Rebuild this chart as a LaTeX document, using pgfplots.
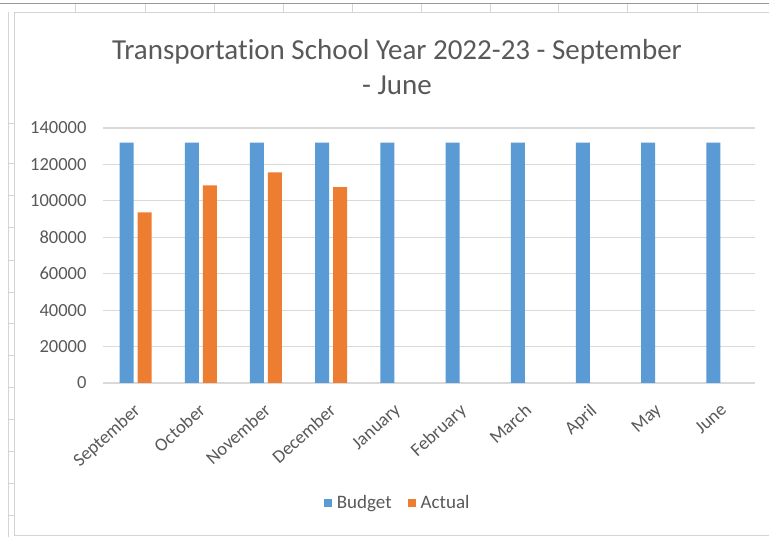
\documentclass[border=0pt]{standalone}
\usepackage{pgfplots}
\pgfplotsset{compat=1.18}
\usepackage{fontspec}
\setmainfont{Carlito}[Ligatures=NoCommon]

\definecolor{budget}{HTML}{5B9BD5}
\definecolor{actual}{HTML}{ED7D31}
\definecolor{txt}{HTML}{595959}
\definecolor{gridc}{HTML}{D9D9D9}
\definecolor{cell}{HTML}{D4D4D4}

\begin{document}
\begin{tikzpicture}
% 1pt = 1px of the reference, axis box lower-left at px (103,383)
\useasboundingbox (-103pt,-154pt) rectangle (666pt,383pt);

% ── spreadsheet cells around the chart ──
\draw[gray!80, line width=1pt] (-103pt,379pt) -- (666pt,379pt);
\foreach \x in {75,145,214,283,352,421,490,558,627,697} {
  \draw[cell] (\x pt-103pt,379pt) -- (\x pt-103pt,371pt);
}
\draw[cell] (-95pt,371pt) -- (-95pt,-154pt);
\foreach \y in {123,163,195,227,260,292,323,355,387,419,451,483,515} {
  \draw[cell] (-95pt,383pt-\y pt) -- (-89pt,383pt-\y pt);
}
% chart frame
\draw[cell, fill=white] (-89pt,-152pt) rectangle (670pt,371pt);

% ── title ──
\node[text=txt, font=\fontsize{29}{35}\selectfont, align=center]
  at (294pt,316pt) {Transportation School Year 2022-23 - September\\- June};

\begin{axis}[
    scale only axis,
    width=652pt, height=255pt,
    ybar=4pt, bar width=14pt,
    xmin=-0.5, xmax=9.5,
    ymin=0, ymax=140000,
    xtick={0,...,9},
    xticklabels={September,October,November,December,January,February,March,April,May,June},
    ytick={0,20000,...,140000},
    scaled y ticks=false,
    /pgf/number format/assume math mode=true,
    yticklabel style={/pgf/number format/fixed, /pgf/number format/1000 sep={}},
    y tick label style={font=\fontsize{18.5}{18.5}\selectfont, text=txt, xshift=-13pt},
    x tick label style={font=\fontsize{18.5}{18.5}\selectfont, text=txt, rotate=42, anchor=north east, xshift=-9pt, yshift=-6pt},
    axis line style={draw=none},
    tick style={draw=none},
    ymajorgrids=true,
    grid style={gridc, line width=1.2pt},
    legend style={at={(0.452,-0.47)}, anchor=center, draw=none, fill=none,
        legend columns=2, font=\fontsize{19}{19}\selectfont, text=txt,
        /tikz/every odd column/.append style={column sep=3pt},
        /tikz/every even column/.append style={column sep=14pt}},
    legend image code/.code={\fill[#1] (-4pt,-4pt) rectangle (4pt,4pt);},
]

% Budget
\addplot[fill=budget, draw=none] coordinates {
    (0,132000) (1,132000) (2,132000) (3,132000) (4,132000)
    (5,132000) (6,132000) (7,132000) (8,132000) (9,132000)
};

% Actual
\addplot[fill=actual, draw=none] coordinates {
    (0,93700) (1,108500) (2,115700) (3,107600)
};

\legend{Budget, Actual}

\end{axis}
\end{tikzpicture}
\end{document}
